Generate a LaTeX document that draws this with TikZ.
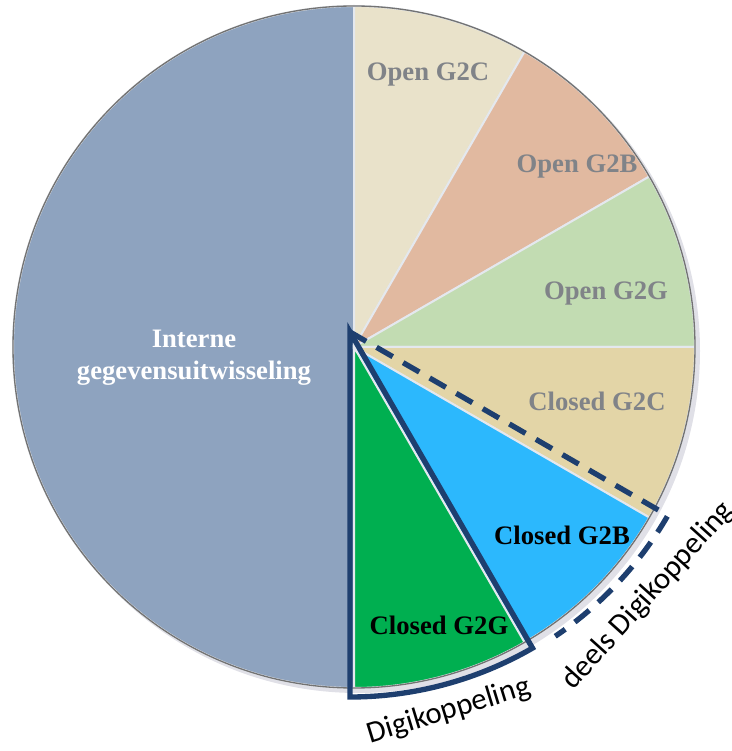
\documentclass[tikz,border=0pt]{standalone}
\usepackage{fontspec}
\setmainfont{Liberation Serif}
\newfontfamily\kopfont{Carlito}
\definecolor{interne}{HTML}{8EA3BF}
\definecolor{opengc}{HTML}{E9E2CA}
\definecolor{opengb}{HTML}{E1B9A0}
\definecolor{opengg}{HTML}{C2DCB2}
\definecolor{closedgc}{HTML}{E3D5A7}
\definecolor{closedgb}{HTML}{2CB8FD}
\definecolor{closedgg}{HTML}{00AF50}
\definecolor{kopblue}{HTML}{1E3F6F}
\definecolor{labelgray}{HTML}{808388}
\definecolor{sepline}{HTML}{E4E8EE}
\tikzset{
  slicelabel/.style={font=\bfseries\fontsize{20}{24}\selectfont, text=labelgray},
  koplabel/.style={font=\kopfont\fontsize{23}{26}\selectfont, text=black},
  kopline/.style={draw=kopblue, line width=4pt}
}
\begin{document}
\begin{tikzpicture}[x=0.75pt,y=0.75pt]
\useasboundingbox (0,0) rectangle (732,751);
\coordinate (c) at (354,404);
\coordinate (o) at (350,419);

% shadow and slices
\fill[blue!20!black!12] (358,400) circle (342);
\foreach \a/\b/\col in {90/270/interne, 60/90/opengc, 30/60/opengb, 0/30/opengg, -30/0/closedgc, -60/-30/closedgb, -90/-60/closedgg}{
\filldraw[fill=\col, draw=sepline, line width=1.5pt] (c) -- ++(\a:341) arc[start angle=\a, end angle=\b, radius=341] -- cycle;
}
\draw[black!55, line width=1pt] (c) circle (341);

\node[slicelabel, text=white, align=center] (interne) at (194,393) {Interne\\gegevensuitwisseling};
\node[slicelabel] (og2c) at (428,676) {Open G2C};
\node[slicelabel] (og2b) at (577,584) {Open G2B};
\node[slicelabel] (og2g) at (606,457) {Open G2G};
\node[slicelabel] (cg2c) at (597,350) {Closed G2C};
\node[slicelabel, text=black] (cg2b) at (562,216) {Closed G2B};
\node[slicelabel, text=black] (cg2g) at (439,126) {Closed G2G};

% Digikoppeling outlines
\draw[kopline, line join=miter] (o) -- ++(-90:365) arc[start angle=-90, end angle=-60, radius=365] -- cycle;
\draw[kopline, dash pattern=on 14pt off 9pt] (o) -- ++(-30:367) arc[start angle=-30, end angle=-56, radius=367];

\node[koplabel, rotate=17] (dk) at (449,40) {Digikoppeling};
\node[koplabel, rotate=48] (deels) at (648,155) {deels Digikoppeling};
\end{tikzpicture}
\end{document}
